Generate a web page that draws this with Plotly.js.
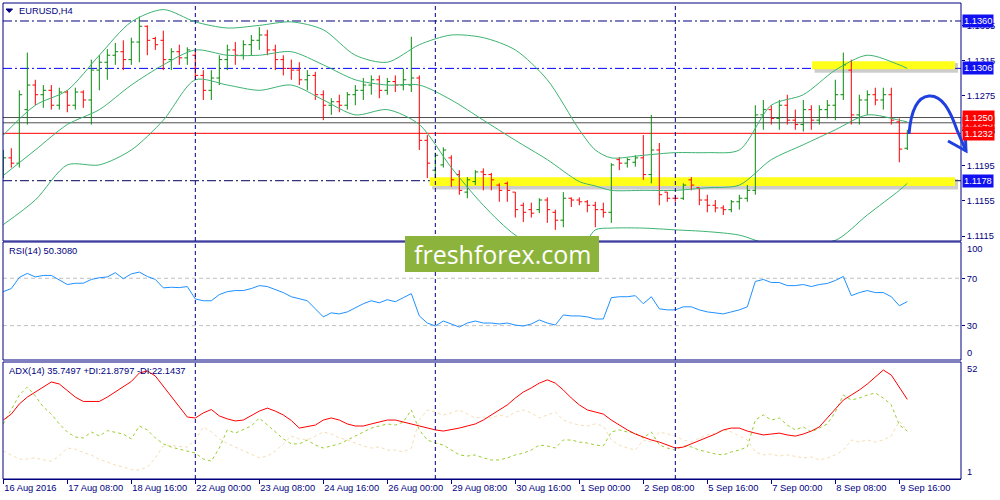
<!DOCTYPE html>
<html><head><meta charset="utf-8">
<script src="https://cdn.plot.ly/plotly-3.0.1.min.js"></script>
<style>html,body{margin:0;padding:0;background:#fff;}#chart{width:1000px;height:500px;}</style>
</head><body><div id="chart"></div>
<script>
// ---------- DATA ----------
const tickIdx = [0,8,16,24,32,40,48,56,64,72,80,88,96,104,112];
const tickLabels = ["16 Aug 2016","17 Aug 08:00","18 Aug 16:00","22 Aug 00:00","23 Aug 08:00","24 Aug 16:00","26 Aug 00:00","29 Aug 08:00","30 Aug 16:00","1 Sep 00:00","2 Sep 08:00","5 Sep 16:00","7 Sep 00:00","8 Sep 08:00","9 Sep 16:00"];
const weekStarts = [24,54,84];

const open = [1.1196,1.1204,1.1198,1.1259,1.1287,1.1276,1.1281,1.1264,1.1279,1.1264,
1.1279,1.1270,1.1304,1.1313,1.1321,1.1325,1.1316,1.1336,1.1354,1.1340,
1.1338,1.1316,1.1325,1.1318,1.1321,1.1298,1.1281,1.1295,1.1316,1.1327,
1.1321,1.1333,1.1338,1.1344,1.1327,1.1316,1.1306,1.1304,1.1293,1.1298,
1.1276,1.1264,1.1268,1.1264,1.1276,1.1281,1.1287,1.1293,1.1281,1.1291,
1.1287,1.1287,1.1295,1.1224,1.1190,1.1196,1.1204,1.1185,1.1165,1.1177,
1.1188,1.1185,1.1173,1.1175,1.1165,1.1150,1.1145,1.1145,1.1156,1.1142,
1.1133,1.1158,1.1156,1.1154,1.1150,1.1145,1.1142,1.1202,1.1198,1.1199,
1.1204,1.1185,1.1213,1.1165,1.1158,1.1158,1.1179,1.1170,1.1156,1.1150,
1.1147,1.1145,1.1154,1.1158,1.1167,1.1253,1.1259,1.1249,1.1264,1.1247,
1.1242,1.1259,1.1247,1.1259,1.1264,1.1276,1.1304,1.1253,1.1270,1.1276,
1.1270,1.1276,1.1245,1.1215];
const high = [1.1213,1.1215,1.1281,1.1324,1.1293,1.1287,1.1287,1.1284,1.1281,1.1284,
1.1281,1.1316,1.1321,1.1328,1.1335,1.1338,1.1341,1.1365,1.1355,1.1342,
1.1349,1.1329,1.1333,1.1330,1.1327,1.1304,1.1304,1.1321,1.1333,1.1336,
1.1338,1.1344,1.1353,1.1350,1.1333,1.1321,1.1316,1.1313,1.1304,1.1302,
1.1281,1.1272,1.1276,1.1279,1.1287,1.1295,1.1298,1.1298,1.1295,1.1298,
1.1306,1.1342,1.1298,1.1230,1.1210,1.1216,1.1207,1.1190,1.1182,1.1190,
1.1192,1.1187,1.1175,1.1177,1.1165,1.1153,1.1153,1.1158,1.1159,1.1145,
1.1165,1.1159,1.1159,1.1156,1.1154,1.1153,1.1198,1.1205,1.1204,1.1207,
1.1230,1.1253,1.1221,1.1165,1.1162,1.1175,1.1182,1.1170,1.1162,1.1156,
1.1150,1.1156,1.1162,1.1173,1.1264,1.1270,1.1264,1.1270,1.1276,1.1259,
1.1270,1.1264,1.1264,1.1270,1.1293,1.1324,1.1316,1.1276,1.1281,1.1284,
1.1284,1.1284,1.1249,1.1236];
const low = [1.1181,1.1193,1.1193,1.1242,1.1264,1.1261,1.1259,1.1259,1.1256,1.1259,
1.1261,1.1242,1.1281,1.1293,1.1310,1.1304,1.1310,1.1313,1.1321,1.1327,
1.1304,1.1304,1.1310,1.1310,1.1293,1.1270,1.1270,1.1287,1.1304,1.1310,
1.1316,1.1321,1.1327,1.1321,1.1304,1.1298,1.1293,1.1287,1.1281,1.1270,
1.1247,1.1253,1.1256,1.1259,1.1264,1.1270,1.1276,1.1272,1.1276,1.1279,
1.1281,1.1279,1.1213,1.1181,1.1181,1.1193,1.1171,1.1162,1.1158,1.1173,
1.1167,1.1167,1.1154,1.1154,1.1136,1.1131,1.1136,1.1141,1.1130,1.1122,
1.1125,1.1148,1.1150,1.1142,1.1125,1.1136,1.1130,1.1190,1.1193,1.1194,
1.1179,1.1175,1.1150,1.1154,1.1154,1.1156,1.1167,1.1150,1.1142,1.1142,
1.1139,1.1142,1.1145,1.1154,1.1162,1.1236,1.1242,1.1236,1.1242,1.1236,
1.1234,1.1236,1.1242,1.1249,1.1247,1.1270,1.1242,1.1242,1.1253,1.1264,
1.1259,1.1242,1.1199,1.1213];
const close = [1.1204,1.1198,1.1276,1.1287,1.1276,1.1281,1.1264,1.1279,1.1264,1.1279,
1.1270,1.1304,1.1313,1.1321,1.1325,1.1316,1.1336,1.1354,1.1338,1.1333,
1.1316,1.1325,1.1318,1.1327,1.1298,1.1281,1.1295,1.1316,1.1327,1.1321,
1.1333,1.1338,1.1344,1.1327,1.1316,1.1306,1.1304,1.1293,1.1298,1.1276,
1.1264,1.1268,1.1264,1.1276,1.1281,1.1287,1.1293,1.1281,1.1291,1.1287,
1.1293,1.1295,1.1224,1.1198,1.1207,1.1213,1.1179,1.1167,1.1179,1.1188,
1.1185,1.1179,1.1167,1.1167,1.1145,1.1142,1.1141,1.1156,1.1145,1.1133,
1.1158,1.1156,1.1154,1.1150,1.1145,1.1142,1.1196,1.1198,1.1202,1.1204,
1.1185,1.1213,1.1162,1.1158,1.1158,1.1173,1.1173,1.1156,1.1150,1.1147,
1.1145,1.1154,1.1158,1.1167,1.1253,1.1259,1.1249,1.1264,1.1247,1.1242,
1.1259,1.1247,1.1259,1.1264,1.1276,1.1310,1.1253,1.1270,1.1276,1.1270,
1.1276,1.1247,1.1214,1.1232];

const bbIdx = [0,4,8,12,16,20,24,28,32,36,40,44,48,52,56,60,64,68,72,74,76,80,84,88,92,96,100,104,108,112,113];
const bbUpper = [1.1230,1.1264,1.1281,1.1321,1.1359,1.1373,1.1359,1.1352,1.1355,1.1359,1.1350,1.1321,1.1313,1.1333,1.1344,1.1341,1.1327,1.1293,1.1236,1.1213,1.1204,1.1207,1.1210,1.1210,1.1213,1.1264,1.1276,1.1304,1.1321,1.1310,1.1306];
const bbMiddle = [1.1184,1.1213,1.1242,1.1259,1.1287,1.1310,1.1327,1.1321,1.1321,1.1325,1.1310,1.1293,1.1287,1.1287,1.1270,1.1247,1.1224,1.1202,1.1177,1.1172,1.1167,1.1167,1.1167,1.1170,1.1173,1.1202,1.1219,1.1236,1.1253,1.1247,1.1245];
const bbLower = [1.1128,1.1156,1.1196,1.1196,1.1213,1.1247,1.1293,1.1287,1.1281,1.1287,1.1270,1.1253,1.1259,1.1242,1.1193,1.1150,1.1116,1.1099,1.1099,1.1122,1.1124,1.1124,1.1122,1.1120,1.1116,1.1105,1.1108,1.1110,1.1139,1.1167,1.1175];

const rsi = [58.7,61.3,70.7,74.1,71.1,72.4,72.4,68.5,64.7,65.8,
65.8,69,70.4,71.1,74.7,69.6,73.7,75.2,71.5,69,
61.9,62.4,62.1,63,52.5,51,51,56.2,58.7,59.6,
59.6,61.3,63.8,63,60.4,57.9,54.4,52.7,51,44.2,
37.4,40.8,39.9,41.6,45,48.5,51,49.3,51.9,50.2,
53.6,57,38.2,32.2,29.7,33.9,31.4,28.8,32.2,33.9,
32.2,32.2,31.4,32.2,30.5,29.7,31.4,34.8,32.2,30.5,
39,38.2,38.2,37.4,35.6,35.6,53.6,54.4,54.4,55.3,
48.5,54.4,44.2,43.3,43.3,45.9,45.9,43.3,41.6,40.8,
39.9,41.6,43.3,45.9,67.3,69,66.4,66.4,63.8,63.8,
64.7,63,64.7,65.6,68.1,71.5,55.3,57.9,59.6,57.9,
57.9,54.4,46.8,50.3];

const adx = [26.7,29.3,33.7,36.7,38.9,41.1,43.3,42.4,39.4,36.7,
34.8,34.7,34.8,36.7,38.9,41.1,43.5,47.2,48.1,45.9,
41.5,36.7,32.4,28,27.6,29.8,31.3,28.5,27.2,26.3,
26.7,28.5,30.6,31.9,30.6,28.9,26.5,23.2,23.7,24.5,
26.7,27.6,26.7,25,24.1,24.1,25,25.8,26.7,26.7,
25.8,25,24.1,23.2,22.4,21.9,22.4,23.2,24.1,25,
26.7,28.9,31.1,33.3,36.3,38.9,40.7,42.8,44.2,42.8,
39.8,36.3,33.3,31.1,30.2,29.3,26.7,24.5,22.4,20.6,
19.3,18,17.1,15.8,14.5,14.9,16.3,17.6,19.3,20.6,
22.4,23.2,23.2,21.9,21,20.2,20.6,21,20.2,19.7,
20.6,21.9,23.7,27.6,31.9,35.4,37.6,39.8,42.4,45.5,
48.5,46.3,40.7,35.7];
const plusDI = [25,31.1,37.6,41.1,37.2,32.4,29.3,25,21.5,19.3,
18.9,21.5,19.7,22.1,21.5,20.6,18.5,24.1,22.4,18.9,
16.3,14.9,14,13.2,12.3,9.7,8.8,14.5,22.4,21,
22.4,24.1,27.6,24.5,21.5,18.5,16.3,16.3,18,15.8,
14.5,15.4,16.3,18,19.7,21.5,23.2,24.1,25,24.5,
25.8,31.1,22.4,18,16.7,15.8,13.6,11.5,11,11.5,
10.2,9.3,9.3,10.2,11.5,12.3,13.6,15.8,15.4,14.5,
18,18,17.1,16.7,15.8,15.4,21.5,22.4,21.5,21,
18.9,21.5,15.8,14.5,13.6,15.4,15,13.6,12.8,11.9,
11.5,12.8,13.6,15,26.7,28.9,26.7,27.6,24.5,22.4,
23.7,21.5,23.2,25,30.2,37.6,35.4,36.3,37.6,38.5,
36.3,33.3,24.5,21.9];
const minusDI = [13.2,11.5,9.7,9.7,10.2,9.3,8.8,11,14.5,14,
12.5,11.5,9.5,8.4,7.1,6.2,5.1,4.9,6.2,10.2,
15.4,15.6,15.2,14.9,18,23.7,21.5,18.5,16.5,14.9,
13.2,11.5,10.2,11,13.2,16.3,19.7,18.5,18,19.7,
21.5,20.6,18.9,18,16.7,15.4,14.5,15,13.6,13.6,
12.8,14.5,26.7,31.1,30.2,28.9,29.8,31.1,29.3,27.6,
28,27.6,28.9,28,30.2,31.1,29.8,27.6,28.9,30.2,
26.7,25.4,24.5,24.1,25,24.1,18,15.8,14.5,13.6,
18,17.1,21.5,20.6,19.7,18,17.1,18.9,20.2,21,
22.4,21.5,19.7,18,12.8,11.5,11.9,11,11.5,11,
10.2,10.6,9.3,10.2,11.5,13.6,18,17.1,18,17.1,
18,19.7,26.2,22.1];

const priceTicks = [1.1355,1.1315,1.1275,1.1235,1.1195,1.1155,1.1115];
const levelLines = [1.1360, 1.1306, 1.1178];   // dash-dot levels
const greyLines = [1.1250, 1.1244];
const redLine = 1.1232;
const blueLabels = ["1.1360","1.1306","1.1178"];
const redLabels = ["1.1243","1.1250","1.1232"];
const rsiLevels = [70, 30];

// ---------- LAYOUT HELPERS ----------
const NAVY = '#000080';
const FONT = 'Liberation Sans, Arial, sans-serif';
const FS = 9.3;
const L = 3, R = 39, T = 3, B = 21, PW = 958, PH = 476;
const px2x = px => (px - L) / PW;
const py2y = py => (T + PH - py) / PH;
const barOf = px => (px - 3.3) / 8;

const idx = open.map((_, i) => i);

const traces = [
  {type:'scatter', mode:'lines', x:bbIdx, y:bbUpper, xaxis:'x', yaxis:'y', line:{color:'#3cb371', width:1, shape:'spline', smoothing:0.8}},
  {type:'scatter', mode:'lines', x:bbIdx, y:bbMiddle, xaxis:'x', yaxis:'y', line:{color:'#3cb371', width:1, shape:'spline', smoothing:0.8}},
  {type:'scatter', mode:'lines', x:bbIdx, y:bbLower, xaxis:'x', yaxis:'y', line:{color:'#3cb371', width:1, shape:'spline', smoothing:0.8}},
  {type:'ohlc', x:idx, open:open, high:high, low:low, close:close, xaxis:'x', yaxis:'y', tickwidth:0.36,
   increasing:{line:{color:'#0a8a0a', width:1}}, decreasing:{line:{color:'#ff0000', width:1}}},
  {type:'scatter', mode:'lines', x:idx, y:rsi, xaxis:'x', yaxis:'y2', line:{color:'#1e90ff', width:1}},
  {type:'scatter', mode:'lines', x:idx, y:minusDI, xaxis:'x', yaxis:'y3', line:{color:'#f5deb3', width:1, dash:'3px,3px'}},
  {type:'scatter', mode:'lines', x:idx, y:plusDI, xaxis:'x', yaxis:'y3', line:{color:'#9acd32', width:1, dash:'3px,3px'}},
  {type:'scatter', mode:'lines', x:idx, y:adx, xaxis:'x', yaxis:'y3', line:{color:'#ff0000', width:1}}
];

const shapes = [];
// yellow highlight bands with shadow
[[101.1, 1.1314, 1.1305],[53.3, 1.1182, 1.1172]].forEach(([x0, yt, yb]) => {
  shapes.push({type:'rect', xref:'x', yref:'y', x0:x0+0.3, x1:barOf(958), y0:yb-0.0004, y1:yt-0.0002, fillcolor:'rgba(90,90,90,0.3)', line:{width:0}, layer:'below'});
  shapes.push({type:'rect', xref:'x', yref:'y', x0:x0, x1:barOf(955), y0:yb, y1:yt, fillcolor:'#ffff1a', line:{width:0}, layer:'below'});
});
// dash-dot levels
const lvlColors = ['#000080','#0000ff','#000060'];
levelLines.forEach((v, i) => shapes.push({type:'line', xref:'paper', yref:'y', x0:0, x1:1, y0:v, y1:v, line:{color:lvlColors[i], width:1, dash:'9px,3px,2px,3px'}, layer:'below'}));
greyLines.forEach(v => shapes.push({type:'line', xref:'paper', yref:'y', x0:0, x1:1, y0:v, y1:v, line:{color:'#505050', width:1}, layer:'below'}));
shapes.push({type:'line', xref:'paper', yref:'y', x0:0, x1:1, y0:redLine, y1:redLine, line:{color:'#ff0000', width:1}, layer:'below'});
// rsi levels
rsiLevels.forEach(v => shapes.push({type:'line', xref:'paper', yref:'y2', x0:0, x1:1, y0:v, y1:v, line:{color:'#c0c0c0', width:1, dash:'4px,3px'}, layer:'below'}));
// weekly separators
weekStarts.forEach(w => shapes.push({type:'line', xref:'x', yref:'paper', x0:w, x1:w, y0:0, y1:1, line:{color:NAVY, width:1, dash:'4px,3px'}, layer:'above'}));
// panel frames
[[py2y(241),1],[py2y(360),py2y(242)],[0,py2y(362)]].forEach(([a,b]) => shapes.push({type:'rect', xref:'paper', yref:'paper', x0:0, x1:1, y0:a, y1:b, line:{color:NAVY, width:1}, fillcolor:'rgba(0,0,0,0)', layer:'above'}));
// title triangle
shapes.push({type:'path', xref:'paper', yref:'paper', path:`M ${px2x(6)},${py2y(9)} L ${px2x(12.5)},${py2y(9)} L ${px2x(9.25)},${py2y(12.5)} Z`, fillcolor:NAVY, line:{color:NAVY, width:1}, layer:'above'});
// logo box
shapes.push({type:'rect', xref:'paper', yref:'paper', x0:px2x(405), x1:px2x(599), y0:py2y(272), y1:py2y(236), fillcolor:'#8cb43c', line:{width:0}, layer:'above'});
// hand drawn arrow
const P = (x, y) => `${px2x(x)},${py2y(y)}`;
shapes.push({type:'path', xref:'paper', yref:'paper', path:`M ${P(909,134)} C ${P(911,110)} ${P(917,97)} ${P(929,96)} C ${P(942,95)} ${P(950,110)} ${P(957,130)} L ${P(966,151)}`, line:{color:'#1f3fe0', width:3}, layer:'above'});
shapes.push({type:'path', xref:'paper', yref:'paper', path:`M ${P(948,141)} L ${P(966,151)} L ${P(965,128)}`, line:{color:'#1f3fe0', width:3}, layer:'above'});

const annotations = [];
const txt = (text, x, y, opts={}) => Object.assign({text, xref:'paper', yref:'paper', x, y, xanchor:'left', yanchor:'middle', showarrow:false, font:{family:FONT, size:FS, color:NAVY}}, opts);
annotations.push(txt('EURUSD,H4', px2x(17), py2y(10.5)));
annotations.push(txt('RSI(14) 50.3080', px2x(7), py2y(251)));
annotations.push(txt('ADX(14) 35.7497 +DI:21.8797 -DI:22.1437', px2x(7), py2y(371)));
annotations.push(txt('100', 1, py2y(249.5), {xshift:4}));
annotations.push(txt('0', 1, py2y(353), {xshift:4}));
annotations.push(txt('52', 1, py2y(369), {xshift:4}));
annotations.push(txt('1', 1, py2y(472), {xshift:4}));
// price labels
blueLabels.forEach(s => annotations.push({text:s, xref:'paper', yref:'y', x:1, y:parseFloat(s), xanchor:'left', yanchor:'middle', xshift:1, showarrow:false, bgcolor:'#1010f0', borderpad:1, font:{family:FONT, size:FS, color:'#ffffff'}}));
redLabels.forEach(s => annotations.push({text:s, xref:'paper', yref:'y', x:1, y:parseFloat(s), xanchor:'left', yanchor:'middle', xshift:1, showarrow:false, bgcolor:'#ff0000', borderpad:1.5, font:{family:FONT, size:FS, color:'#ffffff'}}));
// logo text
annotations.push({text:'freshforex.com', xref:'paper', yref:'paper', x:px2x(502), y:py2y(254), xanchor:'center', yanchor:'middle', showarrow:false, font:{family:'Open Sans, sans-serif', size:25, color:'#ffffff'}});

const axisY = (domain, range, extra={}) => Object.assign({domain, range, side:'right', anchor:'x', showgrid:false, zeroline:false, showline:false, ticks:'outside', ticklen:3, tickcolor:NAVY, tickfont:{family:FONT, size:FS, color:NAVY}, fixedrange:true}, extra);

const layout = {
  width:1000, height:500,
  margin:{l:L, r:R, t:T, b:B, pad:0},
  paper_bgcolor:'#ffffff', plot_bgcolor:'#ffffff',
  showlegend:false, hovermode:false,
  xaxis:{domain:[0,1], range:[-0.04,119.71], anchor:'y3', showgrid:false, zeroline:false, showline:true, linecolor:NAVY, linewidth:1,
    ticks:'outside', ticklen:4, tickcolor:NAVY, tickvals:tickIdx, ticktext:tickLabels, ticklabelposition:'outside right',
    tickfont:{family:FONT, size:FS, color:NAVY}, rangeslider:{visible:false}, fixedrange:true},
  yaxis: axisY([py2y(241),1], [1.11093,1.13805], {tickvals:priceTicks, ticktext:priceTicks.map(v=>v.toFixed(4))}),
  yaxis2: axisY([py2y(360),py2y(242)], [1.0,100.6], {tickvals:rsiLevels, ticktext:rsiLevels.map(String)}),
  yaxis3: axisY([0,py2y(362)], [1,52], {tickvals:[], showticklabels:false}),
  shapes, annotations
};

Plotly.newPlot('chart', traces, layout, {staticPlot:true, displayModeBar:false});
</script>
</body></html>
